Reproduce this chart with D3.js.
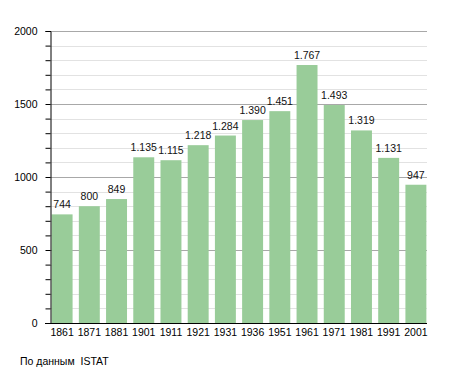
<!DOCTYPE html>
<html><head><meta charset="utf-8">
<script src="https://cdn.jsdelivr.net/npm/d3@7"></script>
<style>body{margin:0;background:#fff}svg{display:block}text{font-family:"Liberation Sans",Arial,sans-serif}</style>
</head><body><svg id="c" width="455" height="373"></svg>
<script>
const years = ["1861","1871","1881","1901","1911","1921","1931","1936","1951","1961","1971","1981","1991","2001"];
const population = [744,800,849,1135,1115,1218,1284,1390,1451,1767,1493,1319,1131,947];
const yTicks = [0,500,1000,1500,2000];
const source = "По данным  ISTAT";

(function(){
const svg = d3.select("#c");
const pL = 50, pR = 428, pT = 31, pB = 323;
const fs = 10.5;
const ff = '"Liberation Sans",Arial,sans-serif';
const x = d3.scaleBand().domain(years).range([pL, pR]).paddingInner(0.23).paddingOuter(0.06);
const y = d3.scaleLinear().domain([0,2000]).range([pB, pT]);

// grid
const minor = d3.range(100, 2001, 100).filter(v => v % 500 !== 0);
svg.append("g").selectAll("line").data(minor).join("line")
  .attr("x1", pL).attr("x2", pR - 1).attr("y1", d => Math.round(y(d))+0.5).attr("y2", d => Math.round(y(d))+0.5)
  .attr("stroke", "#e2e2e2").attr("stroke-width", 1);
svg.append("g").selectAll("line").data(yTicks.filter(v => v > 0)).join("line")
  .attr("x1", pL).attr("x2", pR - 1).attr("y1", d => Math.round(y(d))+0.5).attr("y2", d => Math.round(y(d))+0.5)
  .attr("stroke", "#a8a8a8").attr("stroke-width", 1);

// bars
svg.append("g").selectAll("rect").data(years).join("rect")
  .attr("x", d => x(d)).attr("width", x.bandwidth())
  .attr("y", (d,i) => y(population[i])).attr("height", (d,i) => pB - y(population[i]))
  .attr("fill", "#99cc99");

// value labels
const fmt = v => d3.format(",")(v).replace(/,/g, ".");
svg.append("g").selectAll("text").data(years).join("text")
  .attr("x", d => x(d) + x.bandwidth()/2).attr("y", (d,i) => y(population[i]) - 6)
  .attr("text-anchor", "middle").attr("font-size", fs).attr("fill", "#111")
  .text((d,i) => fmt(population[i]));

// y axis
const yAxis = svg.append("g").attr("transform", `translate(${pL+0.5},0)`)
  .call(d3.axisLeft(y).tickValues(d3.range(0,2001,100)).tickSize(5).tickFormat(d => yTicks.includes(d) ? d : ""));
yAxis.select(".domain").attr("stroke", "#000");
yAxis.selectAll(".tick line").attr("stroke", "#000");
yAxis.selectAll("text").attr("font-size", fs).attr("fill", "#000").attr("x", -13)
  .style("font-family", ff);

// x axis
const xAxis = svg.append("g").attr("transform", `translate(0,${pB+0.5})`)
  .call(d3.axisBottom(x).tickSize(0));
xAxis.select(".domain").attr("d", `M${pL-5},0H${pR-1}`).attr("stroke", "#000");
xAxis.selectAll("text").attr("font-size", fs).attr("fill", "#000").attr("y", 12).attr("dy", 0)
  .style("font-family", ff);

svg.append("text").attr("x", 20).attr("y", 365).attr("font-size", fs).attr("fill", "#000")
  .style("white-space", "pre").text(source);
})();
</script></body></html>
